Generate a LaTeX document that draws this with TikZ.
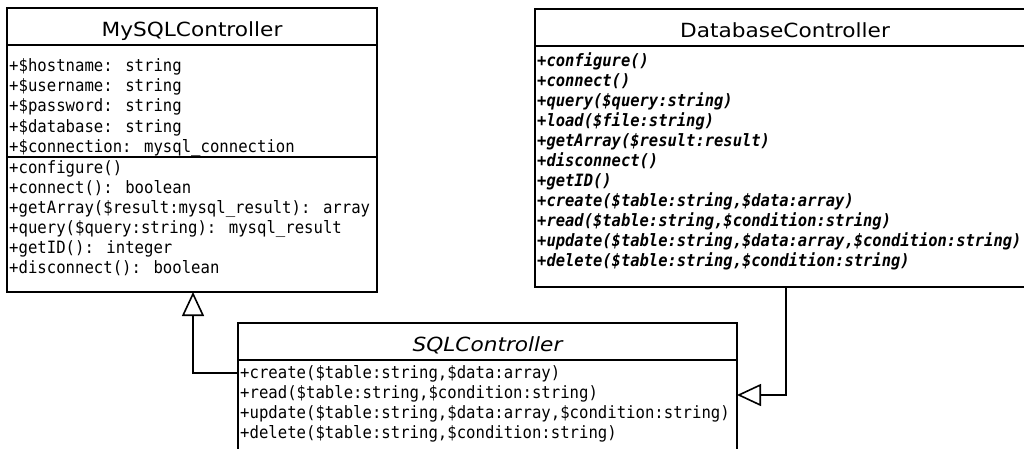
\documentclass[tikz,border=0pt]{standalone}
\usepackage{fontspec}
\setmainfont{DejaVu Sans}
\newfontfamily\classfont[FakeStretch=1.11]{DejaVu Sans}
\newfontfamily\memberfont[FakeStretch=0.92]{DejaVu Sans Mono}
\newfontfamily\abstractfont[FakeStretch=0.91]{DejaVu Sans Mono}
\usetikzlibrary{arrows.meta}

\begin{document}
\begin{tikzpicture}[x=1pt,y=-1pt,
  classbox/.style={draw, line width=1.6pt, anchor=north west, inner sep=0pt, outer sep=0pt},
  classname/.style={font=\classfont\fontsize{19.5}{22}\selectfont, anchor=base, inner sep=0pt},
  member/.style={font=\memberfont\fontsize{17}{20}\selectfont, anchor=base west, inner sep=0pt},
  abstract/.style={member, font=\abstractfont\bfseries\itshape\fontsize{17}{20}\selectfont},
  extends/.style={line width=1.6pt, -{Triangle[open, length=24pt, width=22pt]}}]

\useasboundingbox (0,0) rectangle (1024,448);
\clip (0,0) rectangle (1024,448);

% MySQLController
\node[classbox, minimum width=370pt, minimum height=284pt] (mysql) at (7,8) {};
\node[classname] (mysql name) at ([yshift=-28pt]mysql.north) {MySQLController};
\draw[line width=1.6pt] ([yshift=-37pt]mysql.north west) -- ([yshift=-37pt]mysql.north east);
\draw[line width=1.6pt] ([yshift=-149pt]mysql.north west) -- ([yshift=-149pt]mysql.north east);
\foreach \m [count=\i from 0] in {+\$hostname: string, +\$username: string, +\$password: string,
    +\$database: string, +\$connection: mysql\_connection}
  \node[member] (mysql attr \i) at (9,{71.5+20.2*\i}) {\m};
\foreach \m [count=\i from 0] in {+configure(), +connect(): boolean,
    +getArray(\$result:mysql\_result): array, +query(\$query:string): mysql\_result,
    +getID(): integer, +disconnect(): boolean}
  \node[member] (mysql op \i) at (9,{173+20*\i}) {\m};

% DatabaseController
\node[classbox, minimum width=500pt, minimum height=278pt] (dbc) at (535,9) {};
\node[classname] (dbc name) at ([yshift=-28pt]dbc.north) {DatabaseController};
\draw[line width=1.6pt] ([yshift=-37pt]dbc.north west) -- ([yshift=-37pt]dbc.north east);
\foreach \m [count=\i from 0] in {+configure(), +connect(), +query(\$query:string),
    +load(\$file:string), +getArray(\$result:result), +disconnect(), +getID(),
    {+create(\$table:string,\$data:array)}, {+read(\$table:string,\$condition:string)},
    {+update(\$table:string,\$data:array,\$condition:string)},
    {+delete(\$table:string,\$condition:string)}}
  \node[abstract] (dbc op \i) at (537,{66+20*\i}) {\m};

% SQLController
\node[classbox, minimum width=499pt, minimum height=140pt] (sql) at (238,323) {};
\node[classname, font=\classfont\itshape\fontsize{19.5}{22}\selectfont] (sql name) at ([yshift=-28pt]sql.north) {SQLController};
\draw[line width=1.6pt] ([yshift=-37pt]sql.north west) -- ([yshift=-37pt]sql.north east);
\foreach \m [count=\i from 0] in {{+create(\$table:string,\$data:array)},
    {+read(\$table:string,\$condition:string)},
    {+update(\$table:string,\$data:array,\$condition:string)},
    {+delete(\$table:string,\$condition:string)}}
  \node[member] (sql op \i) at (240,{378+20.2*\i}) {\m};

% generalisations
\draw[extends] ([yshift=-50pt]sql.north west) -| ([xshift=186pt]mysql.south west);
\draw[extends] ([xshift=251pt]dbc.south west) |- ([yshift=-72pt]sql.north east);
\end{tikzpicture}
\end{document}
